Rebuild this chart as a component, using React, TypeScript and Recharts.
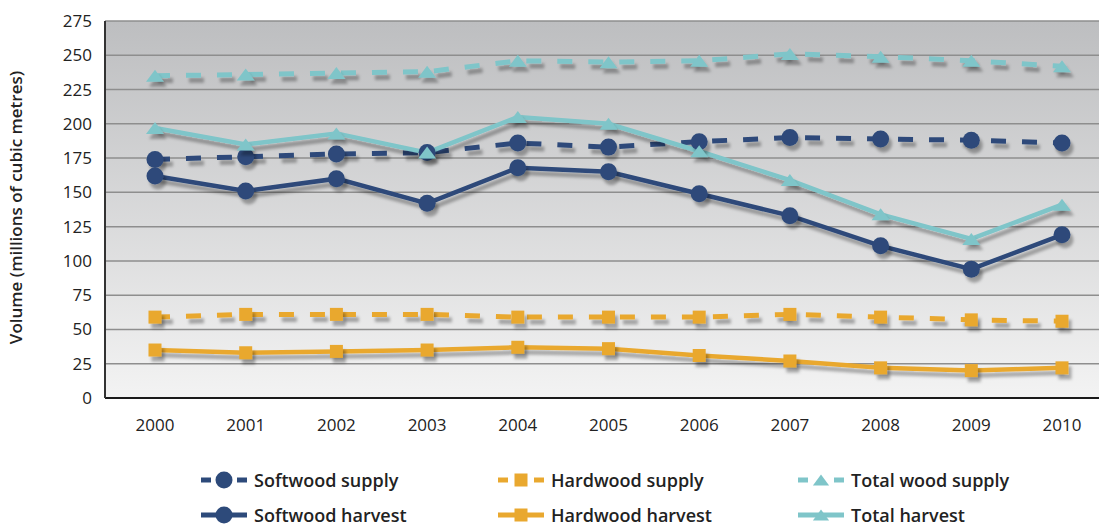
import { LineChart, Line, XAxis, YAxis, CartesianGrid, Legend } from "recharts"

const YEARS = ["2000", "2001", "2002", "2003", "2004", "2005", "2006", "2007", "2008", "2009", "2010"]
const Y_TICKS = [0, 25, 50, 75, 100, 125, 150, 175, 200, 225, 250, 275]

const SOFTWOOD_SUPPLY = [174, 176, 178, 179, 186, 183, 187, 190, 189, 188, 186]
const SOFTWOOD_HARVEST = [162, 151, 160, 142, 168, 165, 149, 133, 111, 94, 119]
const HARDWOOD_SUPPLY = [59, 61, 61, 61, 59, 59, 59, 61, 59, 57, 56]
const HARDWOOD_HARVEST = [35, 33, 34, 35, 37, 36, 31, 27, 22, 20, 22]
const TOTAL_SUPPLY = [235, 236, 237, 238, 246, 245, 246, 251, 249, 246, 242]
const TOTAL_HARVEST = [197, 185, 193, 179, 205, 200, 180, 159, 134, 116, 141]

const BLUE = "#2d4a7a"
const ORANGE = "#e9a82f"
const TEAL = "#7fc5c9"
const FONT = "'Open Sans', sans-serif"

type Shape = "circle" | "square" | "triangle"

// legend order: row 1 = supply, row 2 = harvest
const SERIES: { key: string; name: string; color: string; dashed: boolean; shape: Shape }[] = [
  { key: "softSupply", name: "Softwood supply", color: BLUE, dashed: true, shape: "circle" },
  { key: "hardSupply", name: "Hardwood supply", color: ORANGE, dashed: true, shape: "square" },
  { key: "totalSupply", name: "Total wood supply", color: TEAL, dashed: true, shape: "triangle" },
  { key: "softHarvest", name: "Softwood harvest", color: BLUE, dashed: false, shape: "circle" },
  { key: "hardHarvest", name: "Hardwood harvest", color: ORANGE, dashed: false, shape: "square" },
  { key: "totalHarvest", name: "Total harvest", color: TEAL, dashed: false, shape: "triangle" },
]

const data = YEARS.map((year, i) => ({
  year,
  softSupply: SOFTWOOD_SUPPLY[i],
  softHarvest: SOFTWOOD_HARVEST[i],
  hardSupply: HARDWOOD_SUPPLY[i],
  hardHarvest: HARDWOOD_HARVEST[i],
  totalSupply: TOTAL_SUPPLY[i],
  totalHarvest: TOTAL_HARVEST[i],
}))

function Marker({ shape, color, cx, cy, size = 1 }: { shape: Shape; color: string; cx: number; cy: number; size?: number }) {
  if (shape === "circle") return <circle cx={cx} cy={cy} r={8.5 * size} fill={color} />
  if (shape === "square") {
    const s = 13 * size
    return <rect x={cx - s / 2} y={cy - s / 2} width={s} height={s} fill={color} />
  }
  const w = 9 * size
  const h = 12 * size
  return <polygon points={`${cx - w},${cy + h / 2} ${cx + w},${cy + h / 2} ${cx},${cy - h / 2}`} fill={color} />
}

const makeDot = (shape: Shape, color: string) => (props: any) => {
  const { cx, cy, index } = props
  if (cx == null || cy == null) return <g key={index} />
  return (
    <g key={index} filter="url(#shadow)">
      <Marker shape={shape} color={color} cx={cx} cy={cy} />
    </g>
  )
}

function LegendContent() {
  return (
    <div
      style={{
        display: "grid",
        gridTemplateColumns: "297px 300px 300px",
        rowGap: 12,
        paddingLeft: 201,
        fontFamily: FONT,
        fontSize: 18,
        fontWeight: 600,
        color: "#222",
      }}
    >
      {SERIES.map((s) => (
        <div key={s.key} style={{ display: "flex", alignItems: "center", height: 23 }}>
          <svg width={46} height={20} style={{ marginRight: 7 }}>
            {s.dashed ? (
              <>
                <line x1={0} y1={10} x2={10} y2={10} stroke={s.color} strokeWidth={5} />
                <line x1={36} y1={10} x2={46} y2={10} stroke={s.color} strokeWidth={5} />
              </>
            ) : (
              <line x1={0} y1={10} x2={46} y2={10} stroke={s.color} strokeWidth={5} />
            )}
            <Marker shape={s.shape} color={s.color} cx={23} cy={10} size={s.shape === "triangle" ? 0.9 : 1} />
          </svg>
          <span>{s.name}</span>
        </div>
      ))}
    </div>
  )
}

export default function App() {
  return (
    <div style={{ position: "absolute", left: 0, top: 0, width: 1099, height: 525 }}>
      <LineChart width={1099} height={525} data={data} margin={{ top: 21, right: 0, bottom: 0, left: 0 }}>
        <defs>
          <linearGradient id="bg" x1="0" y1="0" x2="0" y2="1">
            <stop offset="0%" stopColor="#bdbec0" />
            <stop offset="100%" stopColor="#f3f3f3" />
          </linearGradient>
          <filter id="shadow" filterUnits="userSpaceOnUse" x={0} y={0} width={1099} height={525}>
            <feDropShadow dx={3} dy={5} stdDeviation={1.5} floodColor="#000" floodOpacity={0.3} />
          </filter>
        </defs>
        <CartesianGrid vertical={false} stroke="#8e8e8e" strokeWidth={1.5} fill="url(#bg)" fillOpacity={1} />
        <XAxis
          dataKey="year"
          height={40}
          padding={{ left: 50, right: 37 }}
          tickLine={false}
          axisLine={{ stroke: "#1a1a1a", strokeWidth: 2 }}
          tickMargin={15}
          tick={{ fill: "#222", fontSize: 17, fontFamily: FONT }}
        />
        <YAxis
          width={105}
          domain={[0, 275]}
          ticks={Y_TICKS}
          interval={0}
          tickLine={false}
          axisLine={{ stroke: "#333", strokeWidth: 2 }}
          tickMargin={7}
          tick={{ fill: "#222", fontSize: 17, fontFamily: FONT }}
          label={{
            value: "Volume (millions of cubic metres)",
            angle: -90,
            position: "insideLeft",
            dx: 11,
            dy: -2,
            style: { textAnchor: "middle", fill: "#222", fontSize: 17, fontWeight: 600, fontFamily: FONT },
          }}
        />
        <Legend verticalAlign="bottom" height={87} wrapperStyle={{ left: 0, width: 1099, top: 468 }} content={<LegendContent />} />
        {SERIES.map((s) => (
          <Line
            key={s.key}
            type="linear"
            dataKey={s.key}
            name={s.name}
            stroke={s.color}
            strokeWidth={s.dashed ? 5 : 4.5}
            strokeDasharray={s.dashed ? "15 16" : undefined}
            filter="url(#shadow)"
            dot={makeDot(s.shape, s.color)}
            activeDot={false}
            isAnimationActive={false}
          />
        ))}
      </LineChart>
    </div>
  )
}
